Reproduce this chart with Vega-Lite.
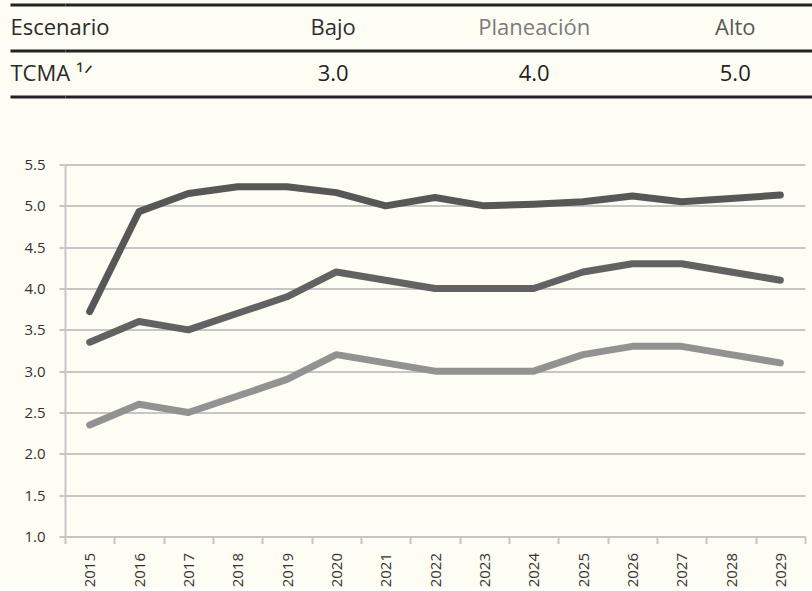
{
  "$schema": "https://vega.github.io/schema/vega-lite/v6.json",
  "background": "#fdfdf4",
  "padding": {"left": 8, "top": -6.5, "right": 0, "bottom": 0},
  "spacing": 59,
  "resolve": {"scale": {"color": "independent"}},
  "datasets": {
    "tabla": [
      {"fila": "Escenario", "col": "Bajo", "texto": "Bajo"},
      {"fila": "Escenario", "col": "Planeación", "texto": "Planeación"},
      {"fila": "Escenario", "col": "Alto", "texto": "Alto"},
      {"fila": "TCMA", "col": "Bajo", "texto": "3.0"},
      {"fila": "TCMA", "col": "Planeación", "texto": "4.0"},
      {"fila": "TCMA", "col": "Alto", "texto": "5.0"}
    ],
    "series": [
      {"anio": 2015, "escenario": "Alto", "valor": 3.72},
      {"anio": 2016, "escenario": "Alto", "valor": 4.93},
      {"anio": 2017, "escenario": "Alto", "valor": 5.15},
      {"anio": 2018, "escenario": "Alto", "valor": 5.23},
      {"anio": 2019, "escenario": "Alto", "valor": 5.23},
      {"anio": 2020, "escenario": "Alto", "valor": 5.16},
      {"anio": 2021, "escenario": "Alto", "valor": 5.0},
      {"anio": 2022, "escenario": "Alto", "valor": 5.1},
      {"anio": 2023, "escenario": "Alto", "valor": 5.0},
      {"anio": 2024, "escenario": "Alto", "valor": 5.02},
      {"anio": 2025, "escenario": "Alto", "valor": 5.05},
      {"anio": 2026, "escenario": "Alto", "valor": 5.12},
      {"anio": 2027, "escenario": "Alto", "valor": 5.05},
      {"anio": 2028, "escenario": "Alto", "valor": 5.09},
      {"anio": 2029, "escenario": "Alto", "valor": 5.13},
      {"anio": 2015, "escenario": "Planeación", "valor": 3.35},
      {"anio": 2016, "escenario": "Planeación", "valor": 3.6},
      {"anio": 2017, "escenario": "Planeación", "valor": 3.5},
      {"anio": 2018, "escenario": "Planeación", "valor": 3.7},
      {"anio": 2019, "escenario": "Planeación", "valor": 3.9},
      {"anio": 2020, "escenario": "Planeación", "valor": 4.2},
      {"anio": 2021, "escenario": "Planeación", "valor": 4.1},
      {"anio": 2022, "escenario": "Planeación", "valor": 4.0},
      {"anio": 2023, "escenario": "Planeación", "valor": 4.0},
      {"anio": 2024, "escenario": "Planeación", "valor": 4.0},
      {"anio": 2025, "escenario": "Planeación", "valor": 4.2},
      {"anio": 2026, "escenario": "Planeación", "valor": 4.3},
      {"anio": 2027, "escenario": "Planeación", "valor": 4.3},
      {"anio": 2028, "escenario": "Planeación", "valor": 4.2},
      {"anio": 2029, "escenario": "Planeación", "valor": 4.1},
      {"anio": 2015, "escenario": "Bajo", "valor": 2.35},
      {"anio": 2016, "escenario": "Bajo", "valor": 2.6},
      {"anio": 2017, "escenario": "Bajo", "valor": 2.5},
      {"anio": 2018, "escenario": "Bajo", "valor": 2.7},
      {"anio": 2019, "escenario": "Bajo", "valor": 2.9},
      {"anio": 2020, "escenario": "Bajo", "valor": 3.2},
      {"anio": 2021, "escenario": "Bajo", "valor": 3.1},
      {"anio": 2022, "escenario": "Bajo", "valor": 3.0},
      {"anio": 2023, "escenario": "Bajo", "valor": 3.0},
      {"anio": 2024, "escenario": "Bajo", "valor": 3.0},
      {"anio": 2025, "escenario": "Bajo", "valor": 3.2},
      {"anio": 2026, "escenario": "Bajo", "valor": 3.3},
      {"anio": 2027, "escenario": "Bajo", "valor": 3.3},
      {"anio": 2028, "escenario": "Bajo", "valor": 3.2},
      {"anio": 2029, "escenario": "Bajo", "valor": 3.1}
    ]
  },
  "vconcat": [
    {
      "width": 749,
      "height": 92,
      "data": {"name": "tabla"},
      "encoding": {
        "y": {
          "field": "fila",
          "type": "nominal",
          "bandPosition": 0.5,
          "scale": {"type": "band", "domain": ["Escenario", "TCMA"], "paddingInner": 0, "paddingOuter": 0},
          "axis": {
            "orient": "left",
            "title": null,
            "domain": false,
            "ticks": true,
            "tickSize": 55,
            "tickWidth": 3,
            "tickColor": "#222222",
            "tickBand": "extent",
            "grid": true,
            "gridColor": "#222222",
            "gridWidth": 3,
            "labelAlign": "left",
            "labelBaseline": "middle",
            "labelPadding": 0,
            "labelFont": "Open Sans",
            "labelFontSize": 22,
            "labelColor": "#2a2a2a",
            "labelExpr": "datum.value === 'TCMA' ? 'TCMA ¹ᐟ' : datum.value"
          }
        },
        "x": {
          "field": "col",
          "type": "nominal",
          "scale": {"type": "point", "domain": ["Bajo", "Planeación", "Alto"], "padding": 0.863, "align": 0.773},
          "axis": null
        },
        "text": {"field": "texto"}
      },
      "layer": [
        {
          "transform": [{"filter": "datum.fila === 'Escenario'"}],
          "mark": {"type": "text", "font": "Open Sans", "fontSize": 22},
          "encoding": {
            "color": {
              "field": "col",
              "type": "nominal",
              "scale": {"domain": ["Bajo", "Planeación", "Alto"], "range": ["#2e2e2e", "#7b7b7b", "#585858"]},
              "legend": null
            }
          }
        },
        {
          "transform": [{"filter": "datum.fila === 'TCMA'"}],
          "mark": {"type": "text", "font": "Open Sans", "fontSize": 22, "color": "#222222"}
        }
      ]
    },
    {
      "width": 740,
      "height": 372,
      "data": {"name": "series"},
      "mark": {"type": "line", "strokeWidth": 7, "strokeCap": "round", "strokeJoin": "round"},
      "encoding": {
        "x": {
          "field": "anio",
          "type": "ordinal",
          "bandPosition": 0.5,
          "scale": {"type": "band", "paddingInner": 0, "paddingOuter": 0},
          "axis": {
            "title": null,
            "tickBand": "extent",
            "labelAngle": -90,
            "labelAlign": "right",
            "labelBaseline": "middle",
            "labelPadding": 9,
            "labelFont": "Open Sans",
            "labelFontSize": 15,
            "labelColor": "#333333",
            "domainColor": "#c6c6c6",
            "domainWidth": 2,
            "tickColor": "#c6c6c6",
            "tickWidth": 2,
            "tickSize": 7,
            "grid": false
          }
        },
        "y": {
          "field": "valor",
          "type": "quantitative",
          "scale": {"domain": [1, 5.5], "nice": false, "zero": false},
          "axis": {
            "title": null,
            "values": [1, 1.5, 2, 2.5, 3, 3.5, 4, 4.5, 5, 5.5],
            "format": ".1f",
            "grid": true,
            "gridColor": "#c6c6c6",
            "gridWidth": 2,
            "domainColor": "#c6c6c6",
            "domainWidth": 2,
            "tickColor": "#c6c6c6",
            "tickWidth": 2,
            "tickSize": 6,
            "labelPadding": 14,
            "labelFont": "Open Sans",
            "labelFontSize": 15,
            "labelColor": "#333333"
          }
        },
        "color": {
          "field": "escenario",
          "type": "nominal",
          "scale": {"domain": ["Bajo", "Planeación", "Alto"], "range": ["#929292", "#626262", "#575757"]},
          "legend": null
        }
      }
    }
  ],
  "config": {"view": {"stroke": null}, "font": "Open Sans"}
}
